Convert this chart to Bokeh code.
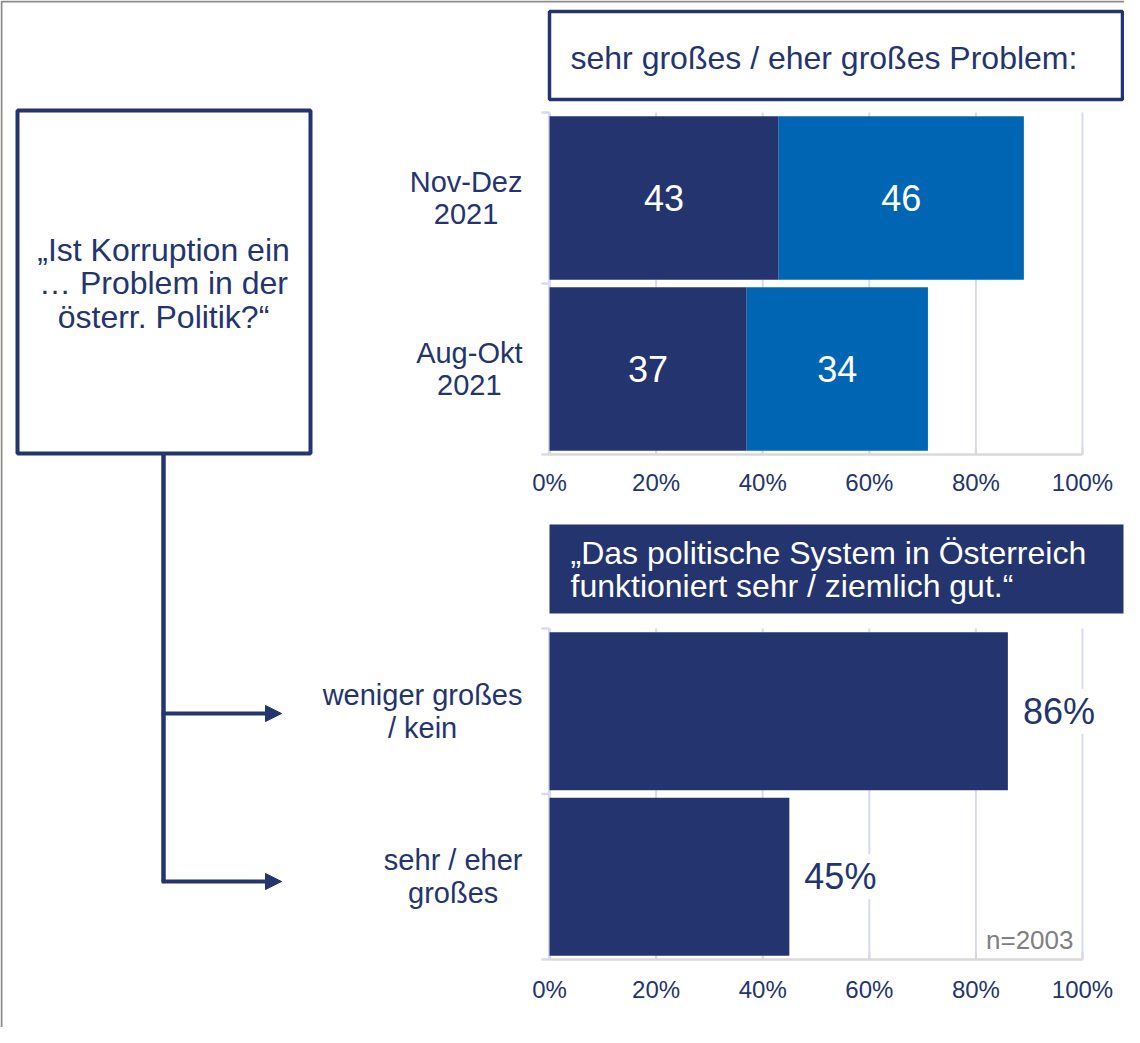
from bokeh.plotting import figure
from bokeh.models import Range1d, Arrow, NormalHead
from bokeh.core.properties import value
from bokeh.embed import file_html
from bokeh.resources import INLINE

# ---------------- data ----------------
top_categories = ["Nov-Dez\n2021", "Aug-Okt\n2021"]
sehr_grosses = [43, 37]
eher_grosses = [46, 34]

bottom_categories = ["weniger großes\n/ kein", "sehr / eher\ngroßes"]
system_gut = [86, 45]

x_ticks = [0, 20, 40, 60, 80, 100]
x_tick_labels = ["0%", "20%", "40%", "60%", "80%", "100%"]

question_text = "\u201eIst Korruption ein\n\u2026 Problem in der\nösterr. Politik?\u201c"
top_title = "sehr großes / eher großes Problem:"
bottom_title = "\u201eDas politische System in Österreich\nfunktioniert sehr / ziemlich gut.\u201c"
sample_note = "n=2003"

# ---------------- style / layout ----------------
NAVY = "#24346F"
BLUE = "#0066B3"
GRID = "#D6DBF0"
AXIS_GRAY = "#D9D9D9"
FONT = "Liberation Sans"

W, H = 1124, 1027
PX0, PY0 = 8, 8                      # page offset of canvas
X0, X100 = 557, 1090                 # pixel of 0% and 100%
TOP_Y0, TOP_Y1 = 120, 462            # top chart frame
BOT_Y0, BOT_Y1 = 636, 967            # bottom chart frame

p = figure(width=W, height=H, output_backend="svg", toolbar_location=None,
           x_range=Range1d(PX0, PX0 + W), y_range=Range1d(PY0 + H, PY0),
           min_border=0, x_axis_location=None, y_axis_location=None)
p.grid.visible = False
p.outline_line_color = None
p.background_fill_color = "white"
p.border_fill_color = "white"

# library scales for the two bar charts
sx = (X100 - X0) / 100.0
p.extra_x_ranges = {"pct": Range1d((PX0 - X0) / sx, (PX0 + W - X0) / sx)}
nt = len(top_categories)
nb = len(bottom_categories)
st = (TOP_Y1 - TOP_Y0) / nt
sb = (BOT_Y1 - BOT_Y0) / nb
p.extra_y_ranges = {
    "top": Range1d((PY0 + H - TOP_Y0) / st, (PY0 - TOP_Y0) / st),
    "bot": Range1d((PY0 + H - BOT_Y0) / sb, (PY0 - BOT_Y0) / sb),
}

# ---------------- outer frame ----------------
p.line(x=[PX0 + 1, PX0 + 1, PX0 + W], y=[PY0 + H, PY0 + 1, PY0 + 1],
       line_color="#8C8C8C", line_width=2)

# ---------------- left question box + connectors ----------------
p.quad(left=[25], right=[318], top=[118], bottom=[461],
       fill_color="white", line_color=NAVY, line_width=4)
p.text(x=[171], y=[291], text=[question_text], text_align="center",
       text_baseline="middle", text_font=value(FONT), text_font_size="32px",
       text_color=NAVY, text_line_height=0.93)
p.line(x=[171, 171], y=[461, 889], line_color=NAVY, line_width=4.5)
for yy in (721, 889):
    p.add_layout(Arrow(end=NormalHead(size=16, fill_color=NAVY, line_color=NAVY, line_width=1),
                       x_start=169, y_start=yy, x_end=289, y_end=yy,
                       line_color=NAVY, line_width=4))

# ---------------- titles ----------------
p.quad(left=[557], right=[1130], top=[19], bottom=[107],
       fill_color="white", line_color=NAVY, line_width=3.5)
p.text(x=[578], y=[65], text=[top_title], text_align="left", text_baseline="middle",
       text_font=value(FONT), text_font_size="32px", text_color=NAVY)

p.quad(left=[557], right=[1131], top=[532], bottom=[621],
       fill_color=NAVY, line_color=NAVY, line_width=0)
p.text(x=[578], y=[577], text=[bottom_title], text_align="left", text_baseline="middle",
       text_font=value(FONT), text_font_size="32px", text_color="white",
       text_line_height=0.9)


def draw_chart(yname, ncat, sy):
    # gridlines
    p.segment(x0=x_ticks[1:], x1=x_ticks[1:], y0=[0] * 5, y1=[ncat] * 5,
              x_range_name="pct", y_range_name=yname, line_color=GRID, line_width=2)
    # bottom axis line
    p.segment(x0=[0], x1=[100], y0=[ncat], y1=[ncat], x_range_name="pct",
              y_range_name=yname, line_color=AXIS_GRAY, line_width=2.5)
    # small inner ticks on the value axis
    p.segment(x0=x_ticks, x1=x_ticks, y0=[ncat] * 6, y1=[ncat - 7 / sy] * 6,
              x_range_name="pct", y_range_name=yname, line_color=AXIS_GRAY, line_width=2)
    # left axis line
    p.segment(x0=[0], x1=[0], y0=[0], y1=[ncat], x_range_name="pct",
              y_range_name=yname, line_color=GRID, line_width=3)
    # category ticks (outward, left)
    p.segment(x0=[-8 / sx] * (ncat + 1), x1=[0] * (ncat + 1), y0=list(range(ncat + 1)),
              y1=list(range(ncat + 1)), x_range_name="pct", y_range_name=yname,
              line_color=GRID, line_width=2.5)


# ---------------- top chart ----------------
yc_top = [i + 0.5 for i in range(nt)]
draw_chart("top", nt, st)
p.hbar(y=yc_top, left=0, right=sehr_grosses, height=0.955, fill_color=NAVY,
       line_color=None, x_range_name="pct", y_range_name="top")
p.hbar(y=yc_top, left=sehr_grosses,
       right=[a + b for a, b in zip(sehr_grosses, eher_grosses)], height=0.955,
       fill_color=BLUE, line_color=None, x_range_name="pct", y_range_name="top")
p.text(x=[a / 2 for a in sehr_grosses], y=yc_top, text=[str(v) for v in sehr_grosses],
       x_range_name="pct", y_range_name="top", text_align="center", text_baseline="middle",
       text_font=value(FONT), text_font_size="36px", text_color="white")
p.text(x=[a + b / 2 for a, b in zip(sehr_grosses, eher_grosses)], y=yc_top,
       text=[str(v) for v in eher_grosses], x_range_name="pct", y_range_name="top",
       text_align="center", text_baseline="middle", text_font=value(FONT),
       text_font_size="36px", text_color="white")
p.text(x=[0] * nt, y=yc_top, text=top_categories, x_offset=-27,
       anchor=value("center_right"), text_align="center", text_baseline="middle",
       x_range_name="pct", y_range_name="top", text_font=value(FONT),
       text_font_size="29px", text_color=NAVY, text_line_height=1.02)
p.text(x=x_ticks, y=[nt] * len(x_ticks), text=x_tick_labels, y_offset=28,
       x_range_name="pct", y_range_name="top", text_align="center",
       text_baseline="middle", text_font=value(FONT), text_font_size="24px",
       text_color=NAVY)

# ---------------- bottom chart ----------------
yc_bot = [i + 0.5 for i in range(nb)]
draw_chart("bot", nb, sb)
p.hbar(y=yc_bot, left=0, right=system_gut, height=0.955, fill_color=NAVY,
       line_color=None, x_range_name="pct", y_range_name="bot")
p.text(x=system_gut, y=yc_bot, text=[f"{v}%" for v in system_gut], x_offset=13,
       x_range_name="pct", y_range_name="bot", text_align="left", text_baseline="middle",
       text_font=value(FONT), text_font_size="36px", text_color=NAVY,
       background_fill_color="white", padding=2)
p.text(x=[0] * nb, y=yc_bot, text=bottom_categories, x_offset=-27,
       anchor=value("center_right"), text_align="center", text_baseline="middle",
       x_range_name="pct", y_range_name="bot", text_font=value(FONT),
       text_font_size="29px", text_color=NAVY, text_line_height=1.02)
p.text(x=x_ticks, y=[nb] * len(x_ticks), text=x_tick_labels, y_offset=30,
       x_range_name="pct", y_range_name="bot", text_align="center",
       text_baseline="middle", text_font=value(FONT), text_font_size="24px",
       text_color=NAVY)
p.text(x=[100], y=[nb], text=[sample_note], x_offset=-9, y_offset=-20,
       x_range_name="pct", y_range_name="bot", text_align="right",
       text_baseline="middle", text_font=value(FONT), text_font_size="26px",
       text_color="#808080")

open("out.html", "w").write(file_html(p, INLINE))
